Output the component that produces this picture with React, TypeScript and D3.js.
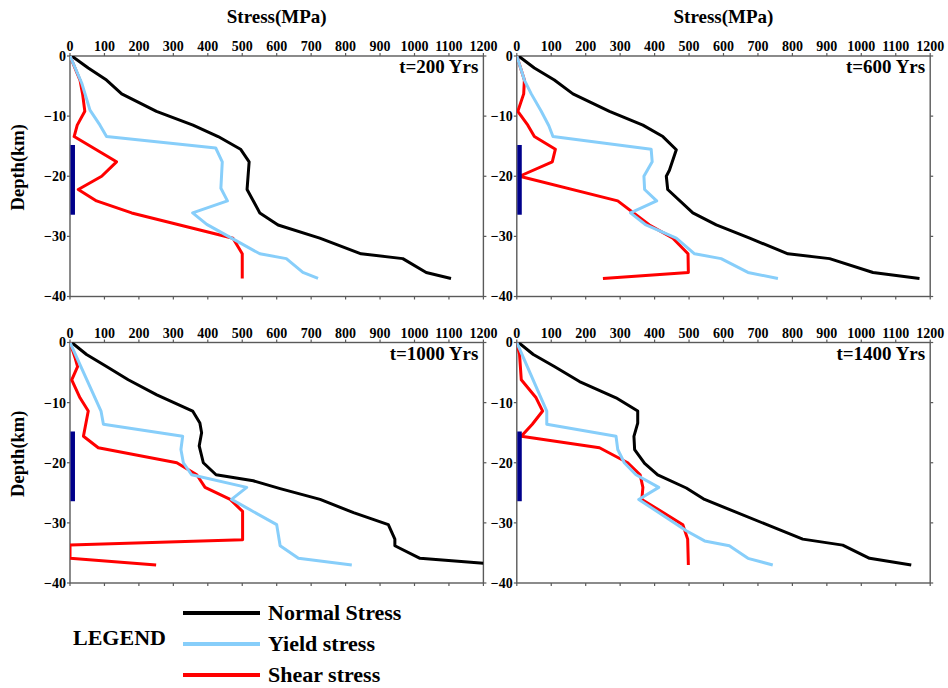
import React from 'react';
import * as d3 from 'd3';

// stress (MPa), depth (km) pairs
const normal200: [number, number][] = [[5, 0], [53, -2], [106, -4], [150, -6.3], [251, -9.2], [357, -11.5], [430, -13.4], [495, -15.5], [520, -17.6], [514, -22.2], [551, -26.1], [604, -28.1], [725, -30.3], [845, -32.9], [966, -33.7], [1034, -36], [1106, -37]];
const yield200: [number, number][] = [[0, 0], [34, -4.5], [58, -9], [87, -11.5], [106, -13.4], [423, -15.3], [442, -17.6], [438, -22], [457, -24.1], [356, -26.1], [397, -28], [469, -30.3], [551, -32.9], [628, -33.7], [676, -36], [720, -37]];
const shear200: [number, number][] = [[0, 0], [29, -4], [37, -6.5], [43, -9.2], [21, -11.5], [12, -13.4], [135, -17.6], [92, -20], [24, -22.2], [77, -24.1], [179, -26.1], [473, -30.3], [500, -32.9], [500, -37]];

const normal600: [number, number][] = [[5, 0], [51, -2], [109, -4], [163, -6.3], [269, -9.2], [366, -11.5], [424, -13.4], [463, -15.6], [443, -19], [434, -20], [438, -22.2], [511, -26.1], [579, -28.1], [676, -30.3], [787, -32.9], [908, -33.7], [1034, -36], [1169, -37]];
const yield600: [number, number][] = [[0, 0], [11, -2], [22, -4], [42, -6.3], [71, -9.2], [93, -11.6], [105, -13.4], [390, -15.5], [393, -17.6], [369, -20], [371, -22.2], [406, -24.1], [330, -26.1], [375, -28.1], [463, -30.3], [516, -32.9], [593, -33.7], [671, -36], [758, -37]];
const shear600: [number, number][] = [[0, 0], [22, -4], [20, -6.3], [3, -9.2], [32, -11.5], [51, -13.4], [112, -15.5], [103, -17.6], [8, -20], [293, -24.1], [385, -28.1], [453, -30.3], [497, -32.9], [498, -36], [250, -37]];

const normal1000: [number, number][] = [[5, 0], [48, -2], [106, -4], [169, -6.2], [252, -8.7], [356, -11.4], [377, -13.4], [382, -15], [375, -17.2], [387, -20], [424, -22], [532, -23], [610, -24.3], [726, -26.1], [823, -28.3], [924, -30.3], [943, -32.7], [943, -33.8], [1016, -35.9], [1200, -36.7]];
const yield1000: [number, number][] = [[0, 0], [90, -11.4], [97, -13.6], [327, -15.6], [322, -17.8], [329, -20], [353, -22], [513, -24.1], [469, -26.1], [600, -30.3], [610, -33.8], [663, -35.9], [818, -37]];
const shear1000: [number, number][] = [[0, 0], [15, -2.6], [22, -4], [5, -6.2], [29, -9.2], [53, -11.4], [39, -15.6], [82, -17.5], [310, -20], [368, -22], [392, -24.1], [465, -26.1], [501, -28.1], [501, -32.8], [0, -33.7], [0, -35.9], [250, -37]];

const normal1400: [number, number][] = [[5, 0], [48, -2], [109, -4], [182, -6.5], [288, -9.2], [351, -11.4], [351, -13.4], [340, -15.6], [342, -17.8], [371, -20.1], [409, -22], [492, -24.2], [545, -26.1], [726, -30.3], [830, -32.7], [946, -33.7], [1024, -35.9], [1145, -37]];
const yield1400: [number, number][] = [[0, 0], [87, -11.4], [87, -13.6], [288, -15.6], [293, -17.8], [312, -20], [346, -22], [412, -24.1], [354, -26.1], [492, -31.3], [545, -33], [617, -33.8], [671, -35.9], [743, -37]];
const shear1400: [number, number][] = [[0, 0], [8, -2], [13, -6.2], [56, -9.2], [75, -11.4], [45, -13.6], [13, -15.6], [240, -17.5], [322, -20], [358, -22], [366, -24.1], [363, -26.1], [482, -30.3], [496, -32.7], [498, -37]];

const panelLabels = ['t=200 Yrs', 't=600 Yrs', 't=1000 Yrs', 't=1400 Yrs'];
const xTicks = d3.range(0, 1201, 100);
const yTicks = [0, -10, -20, -30, -40];
const fault = [-14.8, -26.4]; // fault zone depth range (km)
const faultWidth = 13; // MPa
const legendNames = ['Normal Stress', 'Yield stress', 'Shear stress'];

const colors = { normal: '#000000', yield: '#87cefa', shear: '#ff0000' };
const font = '"Liberation Serif", "Times New Roman", serif';
const frame = '#5a5a5a';

const panels = [
  { x: 70, y: 56, label: panelLabels[0], normal: normal200, yld: yield200, shear: shear200, top: true, left: true },
  { x: 516.8, y: 56, label: panelLabels[1], normal: normal600, yld: yield600, shear: shear600, top: true, left: false },
  { x: 70, y: 342.5, label: panelLabels[2], normal: normal1000, yld: yield1000, shear: shear1000, top: false, left: true },
  { x: 516.8, y: 342.5, label: panelLabels[3], normal: normal1400, yld: yield1400, shear: shear1400, top: false, left: false },
];
const W = 413.4;
const H = 240.5;

const Panel = ({ p, idx }: { p: typeof panels[0]; idx: number }) => {
  const x = d3.scaleLinear([0, 1200], [0, W]);
  const y = d3.scaleLinear([0, -40], [0, H]);
  const line = d3.line<[number, number]>().x(d => x(d[0])).y(d => y(d[1]));
  const clipId = `clip${idx}`;
  return (
    <g transform={`translate(${p.x},${p.y})`} fontFamily={font} fontWeight="bold">
      <clipPath id={clipId}><rect x={0} y={0} width={W} height={H} /></clipPath>
      <rect x={0} y={0} width={W} height={H} fill="none" stroke={frame} strokeWidth={1.4} />
      {xTicks.map(t => (
        <g key={t}>
          <line x1={x(t)} x2={x(t)} y1={0} y2={-3} stroke={frame} strokeWidth={1.2} />
          <line x1={x(t)} x2={x(t)} y1={H} y2={H + 3} stroke={frame} strokeWidth={1.2} />
          <text x={x(t)} y={-5} textAnchor="middle" fontSize={14}>{t}</text>
        </g>
      ))}
      {yTicks.map(t => (
        <g key={t}>
          <line x1={0} x2={-3} y1={y(t)} y2={y(t)} stroke={frame} strokeWidth={1.2} />
          <line x1={W} x2={W + 3} y1={y(t)} y2={y(t)} stroke={frame} strokeWidth={1.2} />
          <text x={-4} y={y(t)} dy="0.35em" textAnchor="end" fontSize={14}>
            {t < 0 ? `\u2212${-t}` : t}
          </text>
        </g>
      ))}
      <g clipPath={`url(#${clipId})`} fill="none" strokeWidth={3} strokeLinejoin="round">
        <path d={line(p.normal) ?? ''} stroke={colors.normal} />
        <path d={line(p.shear) ?? ''} stroke={colors.shear} />
        <path d={line(p.yld) ?? ''} stroke={colors.yield} />
      </g>
      <rect x={x(0) + 0.5} y={y(fault[0])} width={x(faultWidth) - x(0)} height={y(fault[1]) - y(fault[0])} fill="#00008b" />
      <text x={W - 5} y={17} textAnchor="end" fontSize={19}>{p.label}</text>
      {p.top && (
        <text x={W / 2} y={-33} textAnchor="middle" fontSize={19}>Stress(MPa)</text>
      )}
      {p.left && (
        <text transform={`translate(-46,${H / 2 - 9}) rotate(-90)`} textAnchor="middle" fontSize={18.5}>Depth(km)</text>
      )}
    </g>
  );
};

const legendY = d3.scalePoint(legendNames, [613, 675]);
const legendColors = [colors.normal, colors.yield, colors.shear];

export default function App() {
  return (
    <svg width={948} height={688} style={{ position: 'absolute', left: 0, top: 0, background: '#fff' }}>
      {panels.map((p, i) => <Panel key={i} p={p} idx={i} />)}
      <g fontFamily={font} fontWeight="bold" fontSize={22}>
        <text x={73} y={645}>LEGEND</text>
        {legendNames.map((n, i) => (
          <g key={n}>
            <line x1={183} x2={260} y1={legendY(n)} y2={legendY(n)} stroke={legendColors[i]} strokeWidth={4} />
            <text x={268} y={(legendY(n) ?? 0) + 7}>{n}</text>
          </g>
        ))}
      </g>
    </svg>
  );
}
